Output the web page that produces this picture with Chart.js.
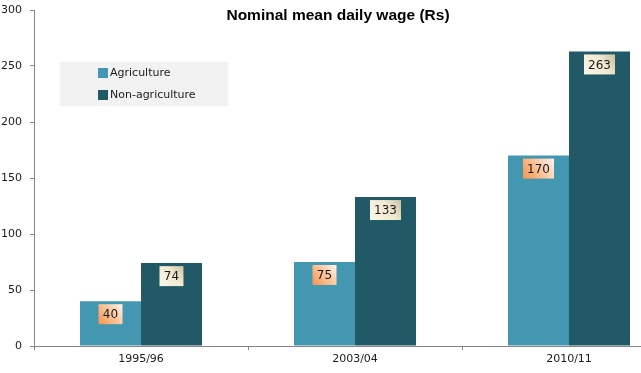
<!DOCTYPE html>
<html>
<head>
<meta charset="utf-8">
<script src="https://cdn.jsdelivr.net/npm/chart.js@4.4.1/dist/chart.umd.min.js"></script>
<style>
  html, body { margin: 0; padding: 0; background: #fff; overflow: hidden; }
  #wrap { position: relative; width: 676px; height: 373px; }
</style>
</head>
<body>
<div id="wrap"><canvas id="myChart" width="676" height="373"></canvas></div>
<script>
// chart data
var years = ["1995/96", "2003/04", "2010/11"];
var agriculture = [40, 75, 170];
var nonAgriculture = [74, 133, 263];
var yTicks = [0, 50, 100, 150, 200, 250, 300];
var titleText = "Nominal mean daily wage (Rs)";

var agriColor = "#4397b0";
var nonAgriColor = "#215967";

// title, legend box and value boxes are painted by hand
var decorPlugin = {
  id: "decor",
  afterDatasetsDraw: function(chart) {
    var ctx = chart.ctx;
    ctx.save();

    // value boxes inside the bars
    chart.data.datasets.forEach(function(ds, di) {
      var meta = chart.getDatasetMeta(di);
      meta.data.forEach(function(bar, i) {
        var txt = String(ds.data[i]);
        ctx.font = "12px 'DejaVu Sans'";
        var w = txt.length > 2 ? 31 : 24;
        var h = 20;
        var x = bar.x - w / 2;
        var y = bar.y + 3;
        var g = ctx.createLinearGradient(x, y + h, x + w, y);
        if (di === 0) {
          g.addColorStop(0, "#f6944c");
          g.addColorStop(0.55, "#fbc7a0");
          g.addColorStop(1, "#fff4ee");
        } else {
          g.addColorStop(0, "#fbf7ea");
          g.addColorStop(0.6, "#f1e8d0");
          g.addColorStop(1, "#c9bfa4");
        }
        ctx.fillStyle = g;
        ctx.fillRect(x, y, w, h);
        ctx.fillStyle = "#1a1a1a";
        ctx.textAlign = "center";
        ctx.textBaseline = "middle";
        ctx.fillText(txt, bar.x, y + h / 2 + 1);
      });
    });

    // legend
    ctx.fillStyle = "#f2f2f2";
    ctx.fillRect(60, 62, 168, 44);
    var names = ["Agriculture", "Non-agriculture"];
    var cols = [agriColor, nonAgriColor];
    ctx.font = "11px 'DejaVu Sans'";
    ctx.textAlign = "left";
    ctx.textBaseline = "middle";
    for (var k = 0; k < 2; k++) {
      var cy = 73 + k * 22;
      ctx.fillStyle = cols[k];
      ctx.fillRect(98, cy - 5, 10, 10);
      ctx.fillStyle = "#1a1a1a";
      ctx.fillText(names[k], 110, cy);
    }

    // title
    ctx.font = "bold 15.5px 'Liberation Sans'";
    ctx.textAlign = "center";
    ctx.textBaseline = "middle";
    ctx.fillStyle = "#000";
    ctx.fillText(titleText, 338, 16);
    ctx.restore();
  }
};

var ctx = document.getElementById("myChart").getContext("2d");
var myChart = new Chart(ctx, {
  type: "bar",
  data: {
    labels: years,
    datasets: [
      { label: "Agriculture", data: agriculture, backgroundColor: agriColor,
        categoryPercentage: 0.57, barPercentage: 1.0 },
      { label: "Non-agriculture", data: nonAgriculture, backgroundColor: nonAgriColor,
        categoryPercentage: 0.57, barPercentage: 1.0 }
    ]
  },
  options: {
    responsive: false,
    animation: false,
    layout: { padding: { top: 10, right: 0, left: 0, bottom: 0 } },
    plugins: {
      legend: { display: false },
      title: { display: false },
      tooltip: { enabled: false }
    },
    scales: {
      x: {
        grid: { display: true, drawOnChartArea: false, offset: true, tickLength: 4, color: "#868686" },
        border: { color: "#868686", width: 1 },
        ticks: { color: "#1a1a1a", font: { family: "DejaVu Sans", size: 11 }, padding: 3 },
        afterFit: function(scale) {
          scale.height = 27;
          scale.paddingLeft = 0;
          scale.paddingRight = 0;
        }
      },
      y: {
        min: 0,
        max: 300,
        afterBuildTicks: function(scale) {
          scale.ticks = yTicks.map(function(v) { return { value: v }; });
        },
        grid: { display: true, drawOnChartArea: false, tickLength: 4, color: "#868686" },
        border: { color: "#868686", width: 1 },
        ticks: { color: "#1a1a1a", font: { family: "DejaVu Sans", size: 11 }, padding: 8 },
        afterFit: function(scale) {
          scale.width = 34;
          scale.paddingTop = 0;
          scale.paddingBottom = 0;
        }
      }
    }
  },
  plugins: [decorPlugin]
});
</script>
</body>
</html>
